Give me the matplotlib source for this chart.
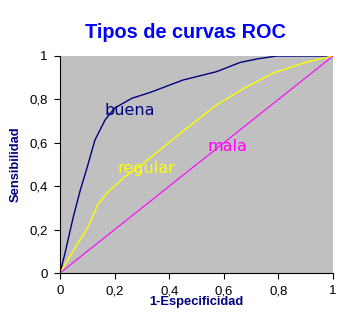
import matplotlib
matplotlib.use("Agg")
import matplotlib.pyplot as plt

plt.rcParams['font.family'] = ['Liberation Sans', 'DejaVu Sans']

buena_x = [0, 0.018, 0.049, 0.075, 0.098, 0.128, 0.165, 0.20, 0.263, 0.33, 0.45, 0.574, 0.659, 0.72, 0.794, 1.0]
buena_y = [0, 0.09, 0.26, 0.385, 0.48, 0.613, 0.705, 0.76, 0.805, 0.832, 0.889, 0.928, 0.97, 0.986, 1.0, 1.0]
regular_x = [0, 0.055, 0.104, 0.14, 0.177, 0.238, 0.299, 0.33, 0.452, 0.574, 0.67, 0.781, 0.904, 1.0]
regular_y = [0, 0.115, 0.215, 0.32, 0.375, 0.444, 0.498, 0.53, 0.655, 0.775, 0.848, 0.922, 0.972, 1.0]
mala_x = [0, 1]
mala_y = [0, 1]
ticks = [0, 0.2, 0.4, 0.6, 0.8, 1]
tick_labels = ['0', '0,2', '0,4', '0,6', '0,8', '1']

fig = plt.figure(figsize=(3.6, 3.14), dpi=100)
ax = fig.add_axes([60/360, 1-273/314, 273/360, 217/314])
ax.set_facecolor('#C0C0C0')
ax.plot(buena_x, buena_y, color='#000080', lw=1)
ax.plot(regular_x, regular_y, color='#FFFF00', lw=1)
ax.plot(mala_x, mala_y, color='#FF00FF', lw=0.8)
ax.set_xlim(0, 1)
ax.set_ylim(0, 1)
ax.set_xticks(ticks)
ax.set_xticklabels(tick_labels)
ax.set_yticks(ticks)
ax.set_yticklabels(tick_labels)
ax.tick_params(direction='out', length=4, width=0.8, labelsize=9.5, pad=5)
for s in ['top', 'right']:
    ax.spines[s].set_visible(False)
for s in ['left', 'bottom']:
    ax.spines[s].set_linewidth(0.8)

lab = dict(fontsize=11.5, ha='center', va='baseline', family='DejaVu Sans')
ax.text(0.255, 0.728, 'buena', color='#000080', **lab)
ax.text(0.318, 0.46, 'regular', color='#FFFF00', **lab)
ax.text(0.615, 0.56, 'mala', color='#FF00FF', **lab)

fig.text(185/360, 1-33/314, 'Tipos de curvas ROC', color='#0000FF', fontsize=14.3,
         fontweight='bold', ha='center', va='center')
fig.text(196.5/360, 1-302/314, '1-Especificidad', color='#000080', fontsize=9.3,
         fontweight='bold', ha='center', va='center')
fig.text(16/360, 1-164/314, 'Sensibilidad', color='#000080', fontsize=9.3,
         fontweight='bold', ha='center', va='center', rotation=90)

fig.savefig('out.png', dpi=100)
